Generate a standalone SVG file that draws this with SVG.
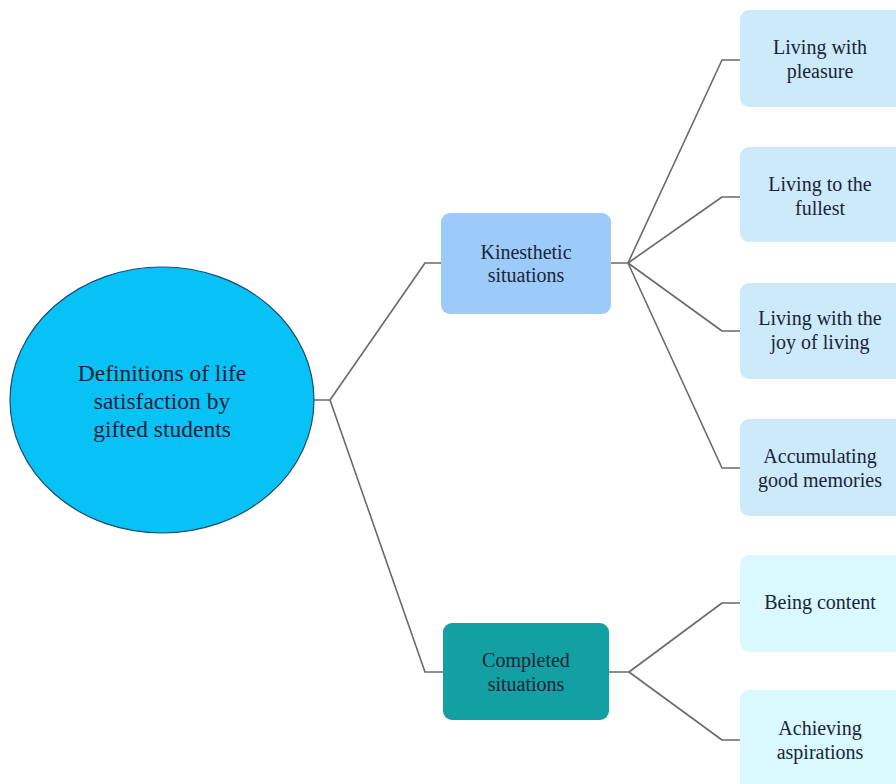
<svg xmlns="http://www.w3.org/2000/svg" width="896" height="784" viewBox="0 0 896 784">
<style>
text{font-family:"Liberation Serif","Times New Roman",serif;fill:#1a2439;text-anchor:middle;dominant-baseline:central}
.root{font-size:23.5px}
.mid{font-size:20px}
.leaf{font-size:20px}
.conn{fill:none;stroke:#6a6a6a;stroke-width:1.6;stroke-linejoin:round}
.c1{fill:#cdeafa}
.c2{fill:#d9f9fe}
</style>
<rect width="896" height="784" fill="#ffffff"/>
<g id="connectors">
<path class="conn" d="M313,400 H330 L425,263 H442"/>
<path class="conn" d="M330,400 L425,672 H443"/>
<path class="conn" d="M611,263 H628 L722,60 H740"/>
<path class="conn" d="M628,263 L722,197 H740"/>
<path class="conn" d="M628,263 L722,331 H740"/>
<path class="conn" d="M628,263 L722,468 H740"/>
<path class="conn" d="M609,672 H629 L722,603 H740"/>
<path class="conn" d="M629,672 L722,740 H740"/>
</g>
<g id="root">
<ellipse cx="162" cy="400" rx="152" ry="133" fill="#07c2f4" stroke="#1f4a70" stroke-width="1.2"/>
<text class="root" x="162" y="373">Definitions of life</text>
<text class="root" x="162" y="401">satisfaction by</text>
<text class="root" x="162" y="429">gifted students</text>
</g>
<g id="kinesthetic">
<rect x="441" y="213" width="170" height="101" rx="9" fill="#9dcbf9"/>
<text class="mid" x="526" y="252">Kinesthetic</text>
<text class="mid" x="526" y="275">situations</text>
</g>
<g id="completed">
<rect x="443" y="623" width="166" height="97" rx="9" fill="#12a0a2"/>
<text class="mid" x="526" y="660">Completed</text>
<text class="mid" x="526" y="684">situations</text>
</g>
<g id="leaf1">
<rect class="c1" x="740" y="10" width="170" height="97" rx="9"/>
<text class="leaf" x="820" y="47">Living with</text>
<text class="leaf" x="820" y="71">pleasure</text>
</g>
<g id="leaf2">
<rect class="c1" x="740" y="147" width="170" height="95" rx="9"/>
<text class="leaf" x="820" y="184">Living to the</text>
<text class="leaf" x="820" y="208">fullest</text>
</g>
<g id="leaf3">
<rect class="c1" x="740" y="283" width="170" height="96" rx="9"/>
<text class="leaf" x="820" y="318">Living with the</text>
<text class="leaf" x="820" y="342">joy of living</text>
</g>
<g id="leaf4">
<rect class="c1" x="740" y="419" width="170" height="97" rx="9"/>
<text class="leaf" x="820" y="456">Accumulating</text>
<text class="leaf" x="820" y="480">good memories</text>
</g>
<g id="leaf5">
<rect class="c2" x="740" y="555" width="170" height="97" rx="9"/>
<text class="leaf" x="820" y="602">Being content</text>
</g>
<g id="leaf6">
<rect class="c2" x="740" y="690" width="170" height="110" rx="9"/>
<text class="leaf" x="820" y="728">Achieving</text>
<text class="leaf" x="820" y="752">aspirations</text>
</g>
</svg>
